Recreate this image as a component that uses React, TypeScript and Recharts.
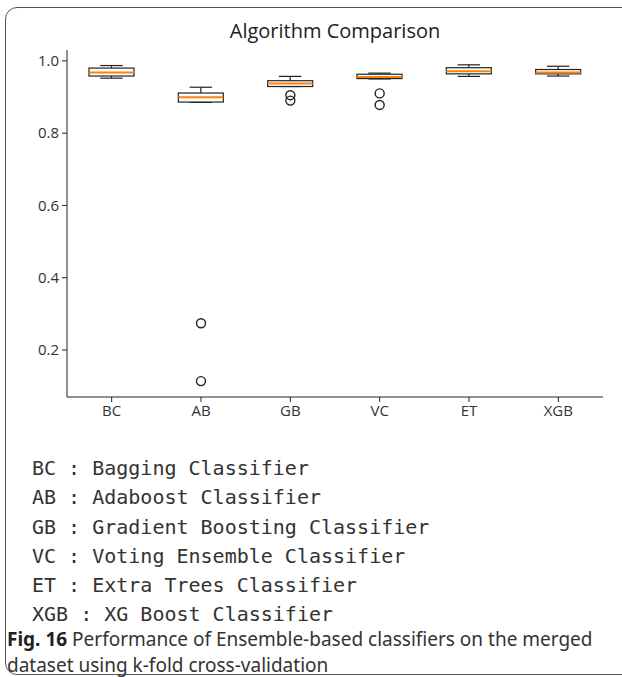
import React from "react";
import { ComposedChart, Bar, Line, XAxis, YAxis } from "recharts";

// accuracy per fold, summarised as a box plot
const categories = ["BC", "AB", "GB", "VC", "ET", "XGB"];
const whiskerLow = [0.952, 0.885, 0.929, 0.95, 0.957, 0.958];
const quartile1 = [0.958, 0.886, 0.929, 0.951, 0.964, 0.964];
const medians = [0.968, 0.899, 0.937, 0.955, 0.971, 0.968];
const quartile3 = [0.98, 0.911, 0.945, 0.963, 0.981, 0.976];
const whiskerHigh = [0.987, 0.927, 0.957, 0.966, 0.989, 0.985];
const outliersA = [null, 0.274, 0.905, 0.91, null, null];
const outliersB = [null, 0.114, 0.89, 0.878, null, null];

const yTicks = [0.2, 0.4, 0.6, 0.8, 1.0];

const legendLines = [
    "BC : Bagging Classifier",
    "AB : Adaboost Classifier",
    "GB : Gradient Boosting Classifier",
    "VC : Voting Ensemble Classifier",
    "ET : Extra Trees Classifier",
    "XGB : XG Boost Classifier",
];

const data = categories.map((name, i) => ({
    name,
    range: [whiskerLow[i], whiskerHigh[i]],
    q1: quartile1[i],
    median: medians[i],
    q3: quartile3[i],
    outA: outliersA[i],
    outB: outliersB[i],
}));

const BoxShape = (props: any) => {
    const { x, y, width, height, payload } = props;
    const [lo, hi] = payload.range;
    const top = Math.min(y, y + height);
    const bottom = Math.max(y, y + height);
    // map a value inside the whisker range to a pixel, using the bar's own extent
    const toY = (v: number) => bottom - ((v - lo) / (hi - lo)) * (bottom - top);
    const cx = x + width / 2;
    const cap = width / 4;
    const yq1 = toY(payload.q1);
    const yq3 = toY(payload.q3);
    return (
        <g>
            <line x1={cx} x2={cx} y1={top} y2={yq3} stroke="#222" strokeWidth={1.2} />
            <line x1={cx} x2={cx} y1={yq1} y2={bottom} stroke="#222" strokeWidth={1.2} />
            <line x1={cx - cap} x2={cx + cap} y1={top} y2={top} stroke="#222" strokeWidth={1.2} />
            <line x1={cx - cap} x2={cx + cap} y1={bottom} y2={bottom} stroke="#222" strokeWidth={1.2} />
            <rect x={x} y={yq3} width={width} height={Math.max(yq1 - yq3, 0.5)} fill="#fff" stroke="#222" strokeWidth={1.2} />
            <line x1={x} x2={x + width} y1={toY(payload.median)} y2={toY(payload.median)} stroke="#ff7f0e" strokeWidth={2} />
        </g>
    );
};

const OutlierDot = (props: any) => {
    const { cx, cy, value, index, dataKey } = props;
    if (value == null || cy == null) return <g key={`${dataKey}-${index}`} />;
    return (
        <circle key={`${dataKey}-${index}`} cx={cx} cy={cy} r={4.5} fill="none" stroke="#222" strokeWidth={1.4} />
    );
};

const tickStyle = { fill: "#333", fontSize: 15, fontFamily: "Open Sans" };

const App: React.FC = () => {
    return (
        <div
            style={{
                position: "absolute",
                left: 0,
                top: 0,
                width: 622,
                height: 677,
                overflow: "hidden",
                background: "#fff",
            }}
        >
            <div
                style={{
                    position: "absolute",
                    left: 5,
                    top: 7,
                    width: 660,
                    height: 668,
                    border: "1.5px solid #555",
                    borderRadius: 12,
                    boxSizing: "border-box",
                }}
            />
            <div
                style={{
                    position: "absolute",
                    left: 67,
                    width: 536,
                    top: 17,
                    textAlign: "center",
                    fontFamily: "Open Sans",
                    fontSize: 20,
                    color: "#222",
                }}
            >
                Algorithm Comparison
            </div>
            <div style={{ position: "absolute", left: 0, top: 0 }}>
                <ComposedChart
                    width={622}
                    height={430}
                    data={data}
                    margin={{ top: 50, right: 19, bottom: 3, left: 27 }}
                >
                    <XAxis
                        dataKey="name"
                        stroke="#222"
                        tick={tickStyle}
                        tickSize={5}
                        tickMargin={3}
                        height={30}
                    />
                    <XAxis xAxisId="top" orientation="top" dataKey="name" stroke="#222" tick={false} tickLine={false} height={0} />
                    <YAxis
                        type="number"
                        domain={[0.07, 1.03]}
                        ticks={yTicks}
                        allowDataOverflow
                        tickFormatter={(v: number) => v.toFixed(1)}
                        stroke="#222"
                        tick={tickStyle}
                        tickSize={5}
                        tickMargin={3}
                        width={40}
                    />
                    <YAxis yAxisId="right" orientation="right" stroke="#222" tick={false} tickLine={false} width={0} domain={[0, 1]} />
                    <Bar dataKey="range" barSize={45} shape={<BoxShape />} isAnimationActive={false} />
                    <Line dataKey="outA" stroke="none" dot={OutlierDot} activeDot={false} isAnimationActive={false} />
                    <Line dataKey="outB" stroke="none" dot={OutlierDot} activeDot={false} isAnimationActive={false} />
                </ComposedChart>
            </div>
            <div
                style={{
                    position: "absolute",
                    left: 32,
                    top: 454,
                    fontFamily: "DejaVu Sans Mono",
                    fontSize: 20,
                    lineHeight: "29.3px",
                    color: "#333",
                    whiteSpace: "pre",
                }}
            >
                {legendLines.map((line) => (
                    <div key={line}>{line}</div>
                ))}
            </div>
            <div
                style={{
                    position: "absolute",
                    left: 7,
                    top: 626,
                    width: 612,
                    fontFamily: "Noto Sans",
                    fontSize: 19,
                    lineHeight: "26px",
                    color: "#333",
                    whiteSpace: "nowrap",
                }}
            >
                <span style={{ fontWeight: 700, color: "#222" }}>Fig. 16</span>
                {"  Performance of Ensemble-based classifiers on the merged"}
                <br />
                dataset using k-fold cross-validation
            </div>
        </div>
    );
};

export default App;
